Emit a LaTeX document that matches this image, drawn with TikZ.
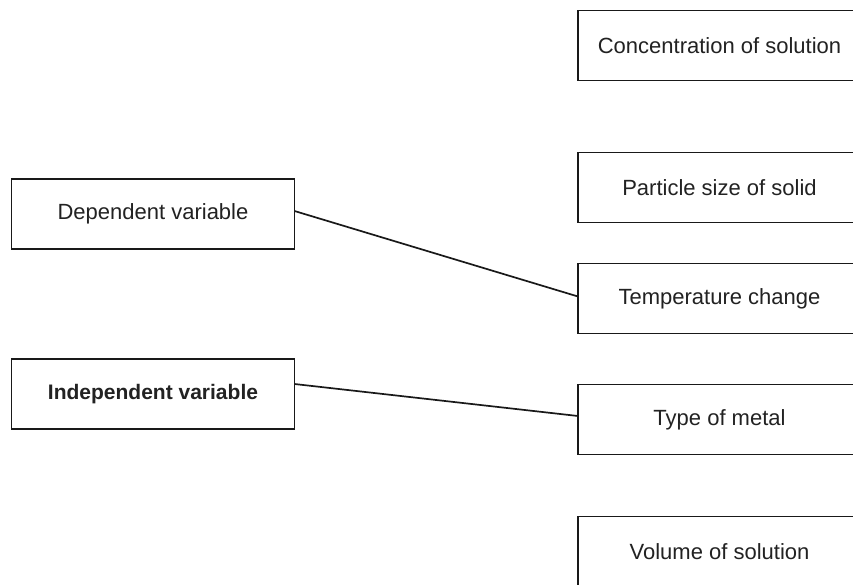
\documentclass[tikz,border=0pt]{standalone}
\usepackage{fontspec}
\setmainfont{Liberation Sans}
\usetikzlibrary{positioning}
\definecolor{inkgray}{HTML}{222222}

\begin{document}
\begin{tikzpicture}[
  x=1pt, y=-1pt,
  varbox/.style={draw=black!90, line width=1.5pt, fill=white, minimum width=283pt, minimum height=70pt, outer sep=0pt, align=center, text=inkgray, font=\fontsize{22}{26}\selectfont},
  link/.style={line width=1.7pt, draw=black!90}
]
\clip (0,0) rectangle (853,584);
\fill[white] (0,0) rectangle (853,584);
% variable types on the left
\node[varbox] (dep) at (153,214) {Dependent variable};
\node[varbox, font=\fontsize{21}{25}\selectfont\bfseries] (indep) at (153,394) {Independent variable};
% factors on the right
\node[varbox] (conc) at (719.5,45.5) {Concentration of solution};
\node[varbox, below=72pt of conc] (part) {Particle size of solid};
\node[varbox, below=41pt of part] (temp) {Temperature change};
\node[varbox, below=51pt of temp] (metal) {Type of metal};
\node[varbox, below=62pt of metal] (vol) {Volume of solution};
% matching lines
\draw[link] ([yshift=3pt]dep.east) -- ([yshift=2pt]temp.west);
\draw[link] ([yshift=10pt]indep.east) -- ([yshift=3.5pt]metal.west);
\end{tikzpicture}
\end{document}
